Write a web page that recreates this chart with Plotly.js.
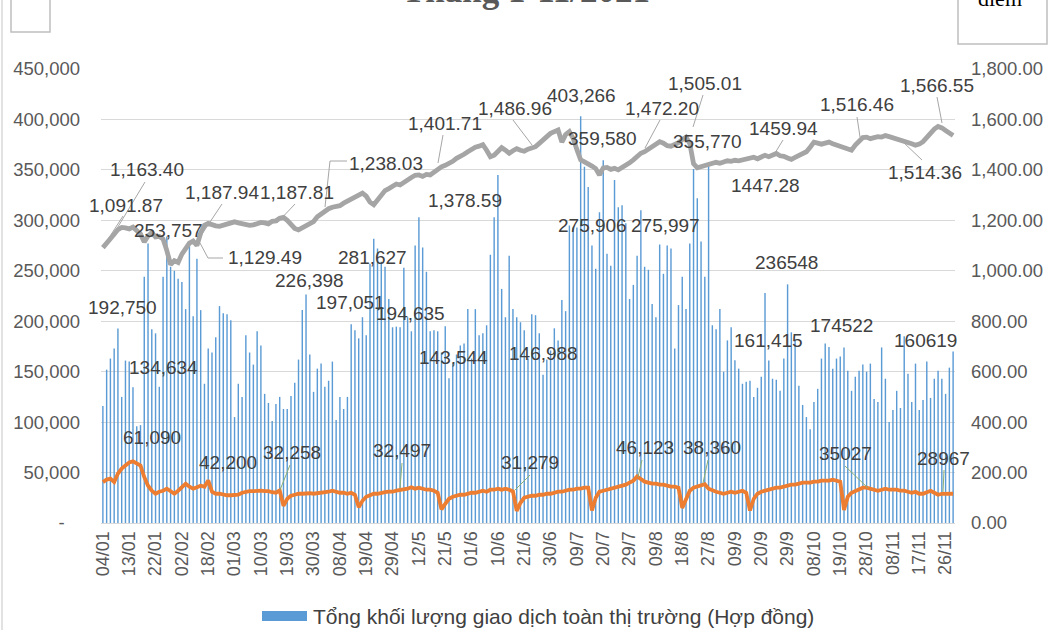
<!DOCTYPE html>
<html><head><meta charset="utf-8">
<script src="https://cdn.plot.ly/plotly-3.0.1.min.js"></script>
<style>html,body{margin:0;padding:0;background:#fff}#chart{width:1050px;height:630px}</style>
</head><body><div id="chart"></div>
<script>
// Category tick labels (every 7th trading day, Jan 4 – Nov 30, 2021)
const tickLabels = ['04/01','13/01','22/01','02/02','18/02','01/03','10/03','19/03','30/03','08/04','19/04','29/04','12/5','21/5','01/6','10/6','21/6','30/6','09/7','20/7','29/7','09/8','18/8','27/8','09/9','20/9','29/9','08/10','19/10','28/10','08/11','17/11','26/11'];
const tickStep = 7;

// Tổng khối lượng giao dịch toàn thị trường (Hợp đồng)
const volume = [
116000,152000,163000,173000,192750,125000,161000,160000,134634,96000,
97000,244000,277000,192000,188000,135000,244000,284000,254000,250000,
242000,239000,212000,275000,205000,262000,211000,138000,173000,169000,
184000,215000,208000,207000,201000,105000,138000,125000,186000,169000,
157000,190000,176000,128000,119000,101000,118000,125000,113000,113000,
126000,139000,162000,211000,226398,167000,130000,153000,158000,135000,
141000,160000,102000,125000,113000,125000,197051,191000,183000,204000,
186000,257000,281627,272000,259000,254000,222000,194000,194635,194000,
253000,204000,190000,275000,303000,273000,249000,190000,191000,190000,
169000,195000,143544,158000,167000,176000,178000,212000,163000,212000,
186000,188000,196000,266000,303000,345000,232000,204000,265000,212000,
204000,199000,191000,163000,207000,206000,188000,146988,162000,171000,
193000,181000,221000,210000,295000,293000,293000,403266,353000,333000,
275000,252000,308000,359580,267000,255000,340000,313000,315000,297000,
222000,236000,265000,310000,254000,251000,217000,204000,275997,247000,
275000,272000,173000,216000,244000,212000,277000,351000,322000,279000,
244000,355770,196000,192000,212000,150000,181000,194000,161415,153000,
138000,140000,141000,125000,134000,145000,228000,161000,143000,142000,
131000,163000,236548,189000,181000,136000,117000,105000,93000,120000,
133000,163000,178000,174522,153000,163000,165000,174000,151000,131000,
145000,151000,157000,150000,158000,123000,120000,174000,143000,100000,
112000,131000,114000,185000,148000,120000,158000,112000,122000,160000,
124000,143000,151000,143000,128000,154000,170000];

// Khối lượng mở (Hợp đồng)
const openInterest = [
40500,43000,44000,40500,49000,54000,57000,60000,61090,59000,
57000,45500,37000,32000,29000,31000,32000,34000,32000,29000,
32000,36000,39000,36000,34000,35500,37000,36000,42200,31000,
29000,29000,28000,27500,27500,27500,28000,30000,31000,31500,
31500,32000,32000,31500,31500,30500,30000,32258,17000,24000,
27000,28000,29000,29000,29500,29500,29000,29500,30000,30000,
31000,32000,31000,30000,30000,29000,30000,28000,15700,22000,
26000,28000,29000,29000,30000,30500,31000,31000,32000,32497,
33000,34000,35500,34000,35000,34000,33000,33000,32000,30000,
13500,19000,24000,26000,27000,28000,28000,29000,30000,30000,
31000,32000,31000,33000,33000,34000,33000,34000,33000,31279,
12000,20000,25000,26000,27000,27000,28000,28000,29000,29000,
30000,31000,31000,32000,33000,33000,34000,34000,35000,35000,
12400,25000,31000,32000,33000,34000,35000,36000,37000,38000,
40000,42000,46123,43000,41000,40000,39000,39000,38000,38000,
37000,36000,36000,35000,15000,24000,32000,35000,36000,37000,
38360,34000,32000,31000,30000,29000,30000,31000,30000,31000,
32000,30000,12400,24000,29000,31000,32000,33000,34000,35000,
35000,36000,37000,38000,38000,39000,40000,40000,40000,41000,
41000,42000,42000,42000,43000,42000,41000,13000,26000,30000,
32000,34000,35000,35027,34000,33000,32000,33000,34000,33000,
33000,33000,32000,32000,31000,30000,31000,29000,29000,31000,
32000,30000,28000,28967,29000,29000,29000];

// VN30 (điểm)
const vn30 = [
1091.87,1112,1130,1145,1163.40,1172,1170,1166,1173,1158,
1146,1114,1138,1152,1134,1136,1126,1080,1024,1040,
1033,1066,1090,1110,1118,1100,1150,1180,1187.94,1181,
1178,1176,1180,1184,1188,1194,1190,1185,1181,1180,
1182,1186,1192,1190,1186,1196,1198,1208,1212,1200,
1185,1168,1162,1170,1178,1182,1195,1214,1225,1238.03,
1246,1252,1256,1258,1268,1275,1282,1292,1298,1308,
1296,1272,1262,1280,1300,1318,1326,1336,1344,1340,
1352,1362,1370,1378.59,1380,1374,1382,1380,1392,1401.71,
1412,1418,1425,1434,1446,1452,1462,1472,1482,1490,
1494,1500,1478,1452,1458,1472,1488,1478,1466,1476,
1484,1478,1474,1482,1486.96,1492,1505,1522,1532,1545,
1552,1558,1510,1540,1552,1525,1480,1440,1432,1425,
1415,1405,1380,1408,1410,1402,1406,1400,1408,1416,
1428,1440,1455,1466,1472.20,1482,1495,1505,1512,1506,
1496,1494,1500,1508,1520,1530,1505.01,1425,1408,1412,
1418,1420,1424,1430,1426,1433,1436,1434,1438,1436,
1440,1442,1447.28,1450,1444,1452,1458,1452,1459.94,1465,
1456,1454,1447,1442,1450,1457,1464,1472,1490,1510,
1506,1502,1506,1510,1504,1498,1494,1488,1482,1478,
1498,1516.46,1528,1530,1524,1528,1532,1530,1536,1532,
1528,1524,1518,1514.36,1510,1504,1498,1502,1512,1530,
1548,1562,1572,1566.55,1556,1546,1536];

const leftTicks = [0,50000,100000,150000,200000,250000,300000,350000,400000,450000];
const rightTicks = [0,200,400,600,800,1000,1200,1400,1600,1800];

// Data labels as shown in the picture: [text, centerX px, centerY px, leader points px]
const lineLabels = [
 ['1,091.87',126,205,[[123,216],[103,247]]],
 ['1,163.40',147,170,[[145,182],[110,240]]],
 ['1,187.94',222,192,[[222,204],[200,237]]],
 ['1,187.81',297,192,[[295,204],[277,223]]],
 ['1,129.49',265,257,[[223,258],[208,258],[200,243]]],
 ['1,238.03',386,163,[[347,161],[330,161],[325,207]]],
 ['1,401.71',445,123,[[443,135],[438,163]]],
 ['1,486.96',515,108,[[513,120],[532,145]]],
 ['1,378.59',465,200,null],
 ['1,472.20',662,108,[[660,120],[645,148]]],
 ['1,505.01',705,83,[[703,95],[693,127]]],
 ['1459.94',783,128,[[783,140],[775,153]]],
 ['1447.28',765,185,null],
 ['1,516.46',857,105,[[857,117],[860,137]]],
 ['1,566.55',937,85,[[937,97],[942,123]]],
 ['1,514.36',925,172,[[922,160],[903,142]]]
];
const barLabels = [
 ['253,757',168,230],['192,750',122,307],['134,634',163,367],['226,398',309,280],
 ['197,051',350,302],['281,627',372,257],['194,635',410,313],['143,544',453,357],
 ['146,988',543,353],['403,266',581,95],['359,580',602,138],['275,906',592,225],
 ['275,997',665,225],['355,770',707,141],['236548',786,262],['161,415',768,340],
 ['174522',841,325],['160619',925,340]
];
const oiLabels = [
 ['61,090',152,437,null],['42,200',228,462,null],
 ['32,258',292,452,[[290,465],[280,490]]],
 ['32,497',402,450,[[402,463],[400,488]]],
 ['31,279',530,462,[[530,475],[515,490]]],
 ['46,123',645,447,[[642,460],[638,477]]],
 ['38,360',712,447,[[708,460],[703,483]]],
 ['35027',845,453,[[845,466],[868,488]]],
 ['28967',943,458,[[944,470],[943,492]]]
];

const W = 1050, H = 630;
const M = {l:101, r:95, t:69, b:107};
const PL = M.l, PR = W - M.r, PT = M.t, PB = H - M.b;
const px2x = px => (px - PL) / (PR - PL);
const py2y = py => (PB - py) / (PB - PT);

const xs = volume.map((_, i) => i);
const fmt = v => v === 0 ? '-\u00a0\u00a0\u00a0' : v.toLocaleString('en-US');
const fmt2 = v => v.toLocaleString('en-US', {minimumFractionDigits:2, maximumFractionDigits:2});

const traces = [
 {type:'bar', x:xs, y:volume, yaxis:'y', name:'Tổng khối lượng giao dịch toàn thị trường (Hợp đồng)',
  marker:{color:'#5B9BD5', line:{width:0}}, width:0.38, showlegend:false, hoverinfo:'skip'},
 {type:'scatter', mode:'lines', x:xs, y:openInterest, yaxis:'y', name:'Khối lượng mở',
  line:{color:'#ED7D31', width:3.8}, showlegend:false, hoverinfo:'skip'},
 {type:'scatter', mode:'lines', x:xs, y:vn30, yaxis:'y2', name:'VN30',
  line:{color:'#A5A5A5', width:4.8}, showlegend:false, hoverinfo:'skip'}
];

const labelFont = {family:'Liberation Sans, Arial, sans-serif', size:19, color:'#404040'};
const annotations = [];
const shapes = [];
function addLabels(list, leaderColor) {
  list.forEach(l => {
    annotations.push({xref:'paper', yref:'paper', x:px2x(l[1]), y:py2y(l[2]), text:l[0],
      showarrow:false, xanchor:'center', yanchor:'middle', font:labelFont});
    if (l[3]) {
      const p = l[3].map((q, k) => (k ? 'L' : 'M') + px2x(q[0]) + ',' + py2y(q[1])).join(' ');
      shapes.push({type:'path', xref:'paper', yref:'paper', path:p, line:{color:leaderColor, width:1}, layer:'above'});
    }
  });
}
addLabels(lineLabels, '#A6A6A6');
addLabels(barLabels.map(b => [b[0], b[1], b[2], null]), '#A6A6A6');
addLabels(oiLabels, '#8CAF74');

// Legend (manual, as in the picture)
shapes.push({type:'rect', xref:'paper', yref:'paper', x0:px2x(262), x1:px2x(307), y0:py2y(621), y1:py2y(611),
  fillcolor:'#5B9BD5', line:{width:0}});
annotations.push({xref:'paper', yref:'paper', x:px2x(311), y:py2y(616), xanchor:'left', yanchor:'middle', showarrow:false,
  text:'Tổng khối lượng giao dịch toàn thị trường (Hợp đồng)',
  font:{family:'Liberation Sans, Arial, sans-serif', size:21, color:'#404040'}});

// Clipped title & boxes at the top edge (the picture is cropped there)
annotations.push({xref:'paper', yref:'paper', x:px2x(526), y:py2y(-10), xanchor:'center', yanchor:'middle', showarrow:false,
  text:'<b>Tháng 1-11/2021</b>', font:{family:'Liberation Serif, serif', size:35, color:'#595959'}});
shapes.push({type:'rect', xref:'paper', yref:'paper', x0:px2x(11), x1:px2x(50), y0:py2y(32), y1:py2y(-5),
  fillcolor:'rgba(0,0,0,0)', line:{color:'#BFBFBF', width:1.5}});
shapes.push({type:'rect', xref:'paper', yref:'paper', x0:px2x(958), x1:px2x(1047), y0:py2y(44), y1:py2y(-5),
  fillcolor:'#fff', line:{color:'#BFBFBF', width:1.5}});
annotations.push({xref:'paper', yref:'paper', x:px2x(1000), y:py2y(-1), xanchor:'center', yanchor:'middle', showarrow:false,
  text:'điểm', font:{family:'Liberation Serif, serif', size:22, color:'#000'}});
// outer chart border (left)
shapes.push({type:'line', xref:'paper', yref:'paper', x0:px2x(2), x1:px2x(2), y0:py2y(0), y1:py2y(630), line:{color:'#D9D9D9', width:1.5}});

const tickFont = {family:'Liberation Sans, Arial, sans-serif', size:18.5, color:'#595959'};
const layout = {
  width:W, height:H, margin:M, paper_bgcolor:'#fff', plot_bgcolor:'#fff', showlegend:false,
  bargap:0.6,
  xaxis:{range:[-0.5, volume.length - 0.5], tickvals:tickLabels.map((_, k) => k * tickStep), ticktext:tickLabels,
    tickangle:-90, tickfont:{family:'Liberation Sans, Arial, sans-serif', size:18, color:'#595959'},
    showgrid:false, zeroline:false, showline:true, linecolor:'#D9D9D9', linewidth:1, ticks:'', fixedrange:true},
  yaxis:{range:[0,450000], tickvals:leftTicks, ticktext:leftTicks.map(fmt), tickfont:tickFont,
    showgrid:true, gridcolor:'#D9D9D9', gridwidth:1, zeroline:false, ticks:'', ticklabelstandoff:20},
  yaxis2:{range:[0,1800], overlaying:'y', side:'right', tickvals:rightTicks, ticktext:rightTicks.map(fmt2), tickfont:tickFont,
    showgrid:false, zeroline:false, ticks:'', ticklabelstandoff:15},
  annotations, shapes
};
Plotly.newPlot('chart', traces, layout, {staticPlot:true, displayModeBar:false});
</script></body></html>
